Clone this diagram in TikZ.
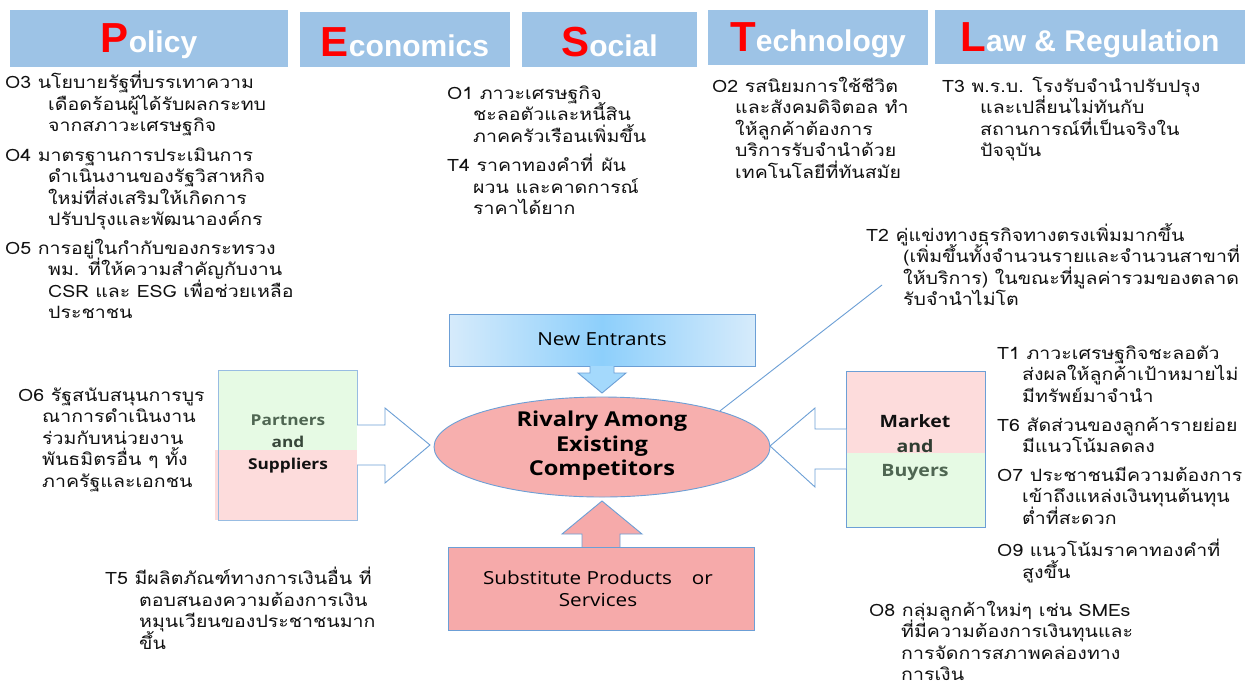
\documentclass[tikz,border=0pt]{standalone}
\usepackage{fontspec}
\setmainfont{Open Sans}[FakeStretch=1.15]
\newfontfamily\thai{Loma}[Script=Thai, FakeStretch=1.15]
\newfontfamily\hdrfont{Liberation Sans}
\usetikzlibrary{shapes.geometric}
\definecolor{hdrblue}{HTML}{9DC3E6}
\definecolor{edgeblue}{HTML}{6C9FD6}
\definecolor{ellpink}{HTML}{F7AFAE}
\definecolor{subpink}{HTML}{F6AAAA}
\definecolor{lgreen}{HTML}{E6FAE4}
\definecolor{lpink}{HTML}{FDDCDC}
\definecolor{needge}{HTML}{D6EBFB}
\definecolor{nemid}{HTML}{8DCFFB}
\definecolor{txt}{HTML}{111111}
\definecolor{grgreen}{HTML}{4F6652}
\newcommand\hl[1]{{\color{red}\fontsize{42}{42}\selectfont #1}}
\newcommand\hg[1]{\hspace*{#1pt}}
\newcommand\fl{\rule{0pt}{17pt}}
\newcommand\thaisize{\thai\fontsize{17}{21.5}\selectfont\lineskiplimit=-30pt\relax}
\tikzset{
  hdr/.style={fill=hdrblue, inner sep=0, text=white,
    font=\hdrfont\bfseries\fontsize{30}{30}\selectfont},
  thaitxt/.style={anchor=north west, inner sep=0, align=left, text=txt,
    font=\thaisize},
  blockarrow/.style={draw=edgeblue, line width=0.9pt, fill=white, line join=miter},
  boxtxt/.style={align=center, inner sep=0}
}
\begin{document}
\begin{tikzpicture}[x=1pt,y=-1pt]
\useasboundingbox (0,0) rectangle (1257,686);
\fill[white] (0,0) rectangle (1257,686);
% headers
\node[hdr, minimum width=278pt, minimum height=57pt] (pol) at (149,38.5) {};
\node[hdr, minimum width=210pt, minimum height=55pt] (eco) at (405,39.5) {};
\node[hdr, minimum width=175pt, minimum height=55pt] (soc) at (609.5,39.5) {};
\node[hdr, minimum width=220pt, minimum height=55pt] (tec) at (818,37.5) {};
\node[hdr, minimum width=310pt, minimum height=54pt] (law) at (1090,37) {};
\node[hdr, fill=none] (polt) at ([yshift=-3pt]pol.center) {\hl{P}olicy};
\node[hdr, fill=none] (ecot) at ([yshift=-3pt]eco.center) {\hl{E}conomics};
\node[hdr, fill=none] (soct) at ([yshift=-3pt]soc.center) {\hl{S}ocial};
\node[hdr, fill=none] (tect) at ([yshift=-3pt]tec.center) {\hl{T}echnology};
\node[hdr, fill=none] (lawt) at ([yshift=-3pt]law.center) {\hl{L}aw \& Regulation};
% text blocks
\node[thaitxt] (o3) at (5,71) {\fl O3 นโยบายรัฐที่บรรเทาความ\\ \hg{43}เดือดร้อนผู้ได้รับผลกระทบ\\ \hg{43}จากสภาวะเศรษฐกิจ};
\node[thaitxt] (o4) at (5,144) {\fl O4 มาตรฐานการประเมินการ\\ \hg{43}ดำเนินงานของรัฐวิสาหกิจ\\ \hg{43}ใหม่ที่ส่งเสริมให้เกิดการ\\ \hg{43}ปรับปรุงและพัฒนาองค์กร};
\node[thaitxt] (o5) at (5,237) {\fl O5 การอยู่ในกำกับของกระทรวง\\ \hg{43}พม. ที่ให้ความสำคัญกับงาน\\ \hg{43}CSR และ ESG เพื่อช่วยเหลือ\\ \hg{43}ประชาชน};
\node[thaitxt] (o1) at (447,82) {\fl O1 ภาวะเศรษฐกิจ\\ \hg{26}ชะลอตัวและหนี้สิน\\ \hg{26}ภาคครัวเรือนเพิ่มขึ้น};
\node[thaitxt] (t4) at (447,154) {\fl T4 ราคาทองคำที่\hspace{8pt}ผัน\\ \hg{26}ผวน และคาดการณ์\\ \hg{26}ราคาได้ยาก};
\node[thaitxt] (o2) at (712,75) {\fl O2 รสนิยมการใช้ชีวิต\\ \hg{23}และสังคมดิจิตอล ทำ\\ \hg{23}ให้ลูกค้าต้องการ\\ \hg{23}บริการรับจำนำด้วย\\ \hg{23}เทคโนโลยีที่ทันสมัย};
\node[thaitxt] (t3) at (942,75) {\fl T3 พ.ร.บ. โรงรับจำนำปรับปรุง\\ \hg{38}และเปลี่ยนไม่ทันกับ\\ \hg{38}สถานการณ์ที่เป็นจริงใน\\ \hg{38}ปัจจุบัน};
\node[thaitxt] (t2) at (866,223) {\fl T2 คู่แข่งทางธุรกิจทางตรงเพิ่มมากขึ้น\\ \hg{37}(เพิ่มขึ้นทั้งจำนวนรายและจำนวนสาขาที่\\ \hg{37}ให้บริการ) ในขณะที่มูลค่ารวมของตลาด\\ \hg{37}รับจำนำไม่โต};
\node[thaitxt] (o6) at (18,384) {\fl O6 รัฐสนับสนุนการบูร\\ \hg{24}ณาการดำเนินงาน\\ \hg{24}ร่วมกับหน่วยงาน\\ \hg{24}พันธมิตรอื่น ๆ ทั้ง\\ \hg{24}ภาครัฐและเอกชน};
\node[thaitxt] (t1) at (997,342) {\fl T1 ภาวะเศรษฐกิจชะลอตัว\\ \hg{25}ส่งผลให้ลูกค้าเป้าหมายไม่\\ \hg{25}มีทรัพย์มาจำนำ};
\node[thaitxt] (t6) at (997,414) {\fl T6 สัดส่วนของลูกค้ารายย่อย\\ \hg{25}มีแนวโน้มลดลง};
\node[thaitxt] (o7) at (997,464) {\fl O7 ประชาชนมีความต้องการ\\ \hg{25}เข้าถึงแหล่งเงินทุนต้นทุน\\ \hg{25}ต่ำที่สะดวก};
\node[thaitxt] (o9) at (997,539) {\fl O9 แนวโน้มราคาทองคำที่\\ \hg{25}สูงขึ้น};
\node[thaitxt] (t5) at (105,567) {\fl T5 มีผลิตภัณฑ์ทางการเงินอื่น ที่\\ \hg{34}ตอบสนองความต้องการเงิน\\ \hg{34}หมุนเวียนของประชาชนมาก\\ \hg{34}ขึ้น};
\node[thaitxt] (o8) at (869,599) {\fl O8 กลุ่มลูกค้าใหม่ๆ เช่น SMEs\\ \hg{32}ที่มีความต้องการเงินทุนและ\\ \hg{32}การจัดการสภาพคล่องทาง\\ \hg{32}การเงิน};
% New entrants
\shade[left color=needge, right color=needge, middle color=nemid] (449,314) rectangle (755,366);
\draw[edgeblue, line width=0.9pt] (449,314) rectangle (755,366);
\node[font=\fontsize{18}{20}\selectfont, inner sep=0] (ne) at (602,339) {New Entrants};
\filldraw[fill=nemid!80, draw=edgeblue, line width=0.9pt, line join=miter]
  (590,366) -- (590,373) -- (578,373) -- (602,393) -- (626,373) -- (614,373) -- (614,366);
% ellipse
\node[ellipse, draw=edgeblue, line width=0.9pt, fill=ellpink, minimum width=336pt, minimum height=100pt, inner sep=0] (riv) at (602,447) {};
\node[font=\bfseries\fontsize{20.5}{24.5}\selectfont, align=center, inner sep=0] (rivt) at (602,446) {Rivalry Among\\ Existing\\ Competitors};
% substitute
\filldraw[fill=subpink, draw=edgeblue, line width=0.9pt, line join=miter]
  (582,547) -- (582,534) -- (562,534) -- (602,501) -- (642,534) -- (620,534) -- (620,547);
\filldraw[fill=subpink, draw=edgeblue, line width=0.9pt] (448,547) rectangle (754,630);
\node[font=\fontsize{18}{22}\selectfont, align=center, inner sep=0] (sub) at (598,589) {Substitute Products\hspace{20pt}or\\ Services};
% partners
\fill[lgreen] (218,370) rectangle (357,450);
\fill[lpink] (215,450) rectangle (357,520);
\draw[edgeblue!70, line width=0.9pt] (218,370) rectangle (357,520);
\node[boxtxt, font=\bfseries\fontsize{15}{22}\selectfont] (ps) at (288,444) {\textcolor{grgreen}{Partners}\\ \textcolor{grgreen!70!black}{and}\\ \textcolor{txt}{Suppliers}};
\draw[blockarrow] (357,425) -- (385,425) -- (385,408) -- (430,445) -- (385,483) -- (385,465) -- (357,465);
% market
\fill[lpink] (846,371) rectangle (985,453);
\fill[lgreen] (846,453) rectangle (985,527);
\draw[edgeblue, line width=0.9pt] (846,371) rectangle (985,527);
\node[boxtxt, font=\bfseries\fontsize{17}{24.5}\selectfont] (mb) at (915,448) {\textcolor{txt}{Market}\\ \textcolor{grgreen!60!black}{and}\\ \textcolor{grgreen}{Buyers}};
\draw[blockarrow] (846,429) -- (815,429) -- (815,408) -- (770,446) -- (815,487) -- (815,469) -- (846,469);
% line to T2
\coordinate (t2end) at (882,285);
\draw[edgeblue, line width=0.9pt] (riv.17) -- (t2end);
\end{tikzpicture}
\end{document}
